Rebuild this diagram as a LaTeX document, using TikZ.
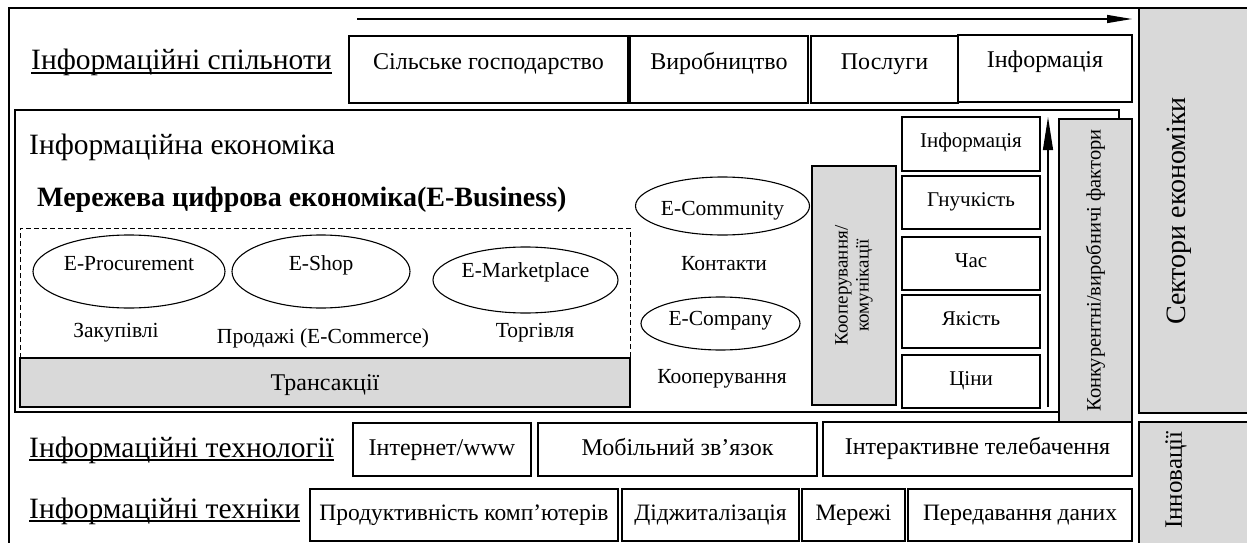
\documentclass[tikz,border=0pt]{standalone}
\usepackage{fontspec}
\setmainfont{Liberation Serif}
\usetikzlibrary{shapes.geometric,arrows.meta}
\definecolor{gfill}{RGB}{217,217,217}
\newcommand\fBig{\fontsize{29.5}{32}\selectfont}
\newcommand\fTitle{\fontsize{28}{30}\selectfont\bfseries}
\newcommand\fBox{\fontsize{24}{26}\selectfont}
\newcommand\fRowA{\fontsize{24}{26}\selectfont}
\newcommand\fRow{\fontsize{23.5}{26}\selectfont}
\newcommand\fEll{\fontsize{21.5}{24}\selectfont}
\newcommand\fRB{\fontsize{21}{23}\selectfont}
\newcommand\fCoop{\fontsize{19}{21}\selectfont}
\newcommand\fKonk{\fontsize{20.5}{22}\selectfont}
\newcommand\fSect{\fontsize{28}{30}\selectfont}
\newcommand\fInn{\fontsize{25}{27}\selectfont}
\begin{document}
\begin{tikzpicture}[x=1pt,y=-1pt,
  box/.style={draw, line width=1.2pt, fill=white, inner sep=0pt, rectangle},
  gbox/.style={box, fill=gfill},
  tbl/.style 2 args={text height=#1pt, text depth=#2pt},
  ell/.style={draw, ellipse, line width=1.1pt, inner sep=0pt, font=\fEll},
  plain/.style={inner sep=0pt, font=\fEll},
  lbl/.style={inner sep=0pt, anchor=base west, font=\fBig},
  uline/.style={line width=1.8pt},
  arrh/.style={line width=1.2pt, -{Triangle[length=25pt,width=8pt]}},
  arrv/.style={line width=1.2pt, -{Triangle[length=33pt,width=10pt]}},
  frame/.style={line width=1.3pt}
]
\useasboundingbox (0,0) rectangle (1247,543);
\clip (0,0) rectangle (1247,543);
% outer frame
\draw[frame] (9,620) -- (9,8) -- (1320,8);
% top arrow
\coordinate (ta1) at (357,19);
\coordinate (ta2) at (1132,19);
\draw[arrh] (ta1) -- (ta2);
% label row 1
\node[lbl] (l1) at (31,70) {Інформаційні спільноти};
\draw[uline] ([yshift=-3pt]l1.base west) -- ([yshift=-3pt]l1.base east);
% top row boxes
\node[box, font=\fBox, minimum width=279pt, minimum height=67pt, tbl={12.5}{11.5}] (agri) at (488.5,69.5) {Сільське господарство};
\node[box, font=\fBox, minimum width=178pt, minimum height=67pt, tbl={12.5}{11.5}] (manuf) at (719,69.5) {Виробництво};
\node[box, font=\fBox, minimum width=147pt, minimum height=67pt, tbl={12.5}{11.5}] (serv) at (884.5,69.5) {Послуги};
\node[box, font=\fBox, minimum width=174pt, minimum height=67pt, tbl={10.5}{13.5}] (info1) at (1045,68.5) {Інформація};
% inner frame
\draw[frame, fill=white] (15,110) rectangle (1119,412);
\node[lbl] (l2) at (29,154) {Інформаційна економіка};
\node[inner sep=0pt, anchor=base west, font=\fTitle] (title) at (37,206) {Мережева цифрова економіка(E-Business)};
% dashed box and transactions
\draw[line width=1pt, dash pattern=on 5pt off 3pt] (20,358) -- (20,228) -- (630,228) -- (630,358);
\node[gbox, font=\fBox, minimum width=610pt, minimum height=49pt, tbl={19.5}{4.5}] (trans) at (325,382.5) {Трансакції};
% ellipses
\node[ell, minimum width=192pt, minimum height=73pt, tbl={10.5}{13.5}] (eproc) at (129,271.5) {E-Procurement};
\node[ell, minimum width=178pt, minimum height=73pt, tbl={10.5}{13.5}] (eshop) at (321,271.5) {E-Shop};
\node[ell, minimum width=185pt, minimum height=66pt, tbl={9}{15}] (emark) at (525.5,280) {E-Marketplace};
\node[plain, anchor=base] (zak) at (116,337) {Закупівлі};
\node[plain, anchor=base] (prod) at (323,343) {Продажі (E-Commerce)};
\node[plain, anchor=base] (torg) at (535,337) {Торгівля};
\node[ell, minimum width=159pt, minimum height=58pt, tbl={21}{3}] (ecomm) at (722.5,206) {E-Community};
\node[ell, minimum width=159pt, minimum height=53pt, tbl={13.5}{10.5}] (ecomp) at (720.5,323.5) {E-Company};
\node[plain, anchor=base] (kont) at (724,270) {Контакти};
\node[plain, anchor=base] (koop) at (722,383) {Кооперування};
% cooperation box
\node[gbox, rotate=90, font=\fCoop, align=center, minimum width=239pt, minimum height=84pt] (coop) at (854,285.5) {Кооперування/\\комунікації};
% right small boxes
\node[box, font=\fRB, minimum width=138pt, minimum height=54pt, tbl={15.5}{8.5}] (infoR) at (971,144) {Інформація};
\node[box, font=\fRB, minimum width=138pt, minimum height=53pt, tbl={15.5}{8.5}] (flex) at (971,202.5) {Гнучкість};
\node[box, font=\fRB, minimum width=138pt, minimum height=53pt, tbl={15.5}{8.5}] (time) at (971,263.5) {Час};
\node[box, font=\fRB, minimum width=138pt, minimum height=53pt, tbl={15.5}{8.5}] (qual) at (971,321.5) {Якість};
\node[box, font=\fRB, minimum width=138pt, minimum height=53pt, tbl={15.5}{8.5}] (price) at (971,381.5) {Ціни};
% vertical arrow
\coordinate (va1) at (1048,407);
\coordinate (va2) at (1048,117);
\draw[arrv] (va1) -- (va2);
% competitive factors
\node[gbox, rotate=90, font=\fKonk, minimum width=303pt, minimum height=73pt] (konk) at (1095.5,270.5) {Конкурентні/виробничі фактори};
% sectors and innovations
\node[gbox, minimum width=150pt, minimum height=405pt] (sect) at (1214,210.5) {};
\node[rotate=90, font=\fSect, inner sep=0pt] (sectT) at (1179,211) {Сектори економіки};
\node[gbox, minimum width=150pt, minimum height=178pt] (innov) at (1214,511) {};
\node[rotate=90, font=\fInn, inner sep=0pt] (innovT) at (1176,480) {Інновації};
% row 3
\node[lbl] (l3) at (29,457) {Інформаційні технології};
\draw[uline] ([yshift=-3pt]l3.base west) -- ([yshift=-3pt]l3.base east);
\node[box, font=\fRowA, minimum width=178pt, minimum height=53pt, tbl={17.5}{6.5}] (inet) at (442,449.5) {Інтернет/www};
\node[box, font=\fRowA, minimum width=279pt, minimum height=53pt, tbl={17.5}{6.5}] (mob) at (677.5,449.5) {Мобільний зв’язок};
\node[box, font=\fRowA, minimum width=309pt, minimum height=54pt, tbl={17}{7}] (itv) at (977.5,449) {Інтерактивне телебачення};
% row 4
\node[lbl] (l4) at (29,518) {Інформаційні техніки};
\draw[uline] ([yshift=-3pt]l4.base west) -- ([yshift=-3pt]l4.base east);
\node[box, font=\fRow, minimum width=308pt, minimum height=52pt, tbl={17}{7}] (perf) at (464,515) {Продуктивність комп’ютерів};
\node[box, font=\fRow, minimum width=177pt, minimum height=52pt, tbl={17}{7}] (digit) at (710.5,515) {Діджиталізація};
\node[box, font=\fRow, minimum width=103pt, minimum height=52pt, tbl={17}{7}] (net) at (853.5,515) {Мережі};
\node[box, font=\fRow, minimum width=224pt, minimum height=52pt, tbl={17}{7}] (data) at (1020,515) {Передавання даних};
\end{tikzpicture}
\end{document}
